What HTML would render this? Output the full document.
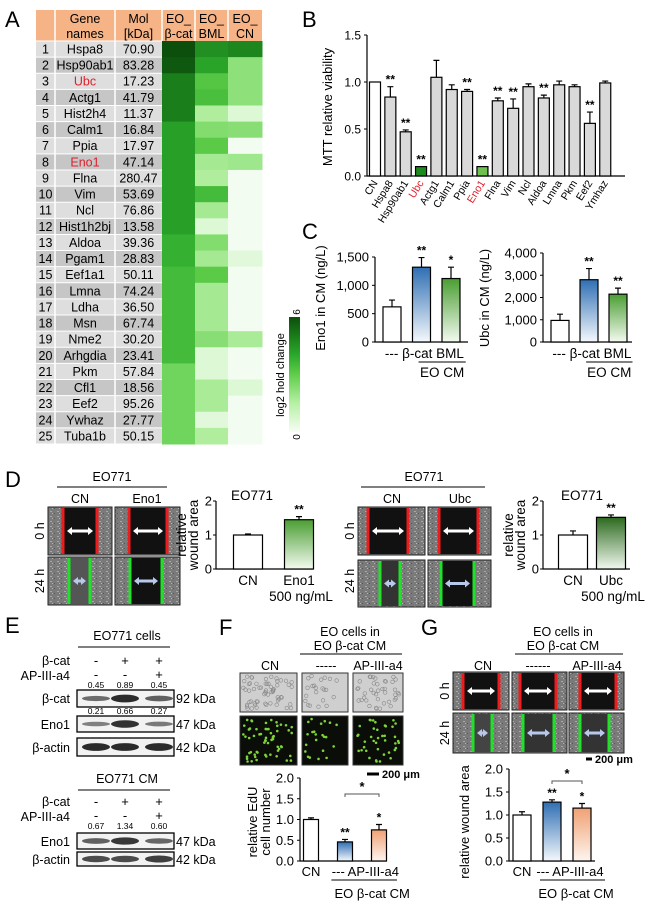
<!DOCTYPE html>
<html><head><meta charset="utf-8"><style>
html,body{margin:0;padding:0;background:#fff;}
svg{display:block;font-family:"Liberation Sans",Arial,sans-serif;}
</style></head><body>
<svg id="fig" width="656" height="911" viewBox="0 0 656 911" xmlns="http://www.w3.org/2000/svg">
<defs>
<linearGradient id="gBlue" x1="0" y1="0" x2="0" y2="1"><stop offset="0" stop-color="#2f6fb3"/><stop offset="1" stop-color="#f4f8fc"/></linearGradient>
<linearGradient id="gGreen" x1="0" y1="0" x2="0" y2="1"><stop offset="0" stop-color="#4a9e32"/><stop offset="1" stop-color="#f4faf0"/></linearGradient>
<linearGradient id="gDark" x1="0" y1="0" x2="0" y2="1"><stop offset="0" stop-color="#2c6a1e"/><stop offset="1" stop-color="#f2f8ef"/></linearGradient>
<linearGradient id="gOrange" x1="0" y1="0" x2="0" y2="1"><stop offset="0" stop-color="#f0a174"/><stop offset="1" stop-color="#fdf5ef"/></linearGradient>
<linearGradient id="gBar" x1="0" y1="0" x2="0" y2="1"><stop offset="0" stop-color="#0c4f0c"/><stop offset="0.17" stop-color="#1a7e1a"/><stop offset="0.33" stop-color="#2ba82b"/><stop offset="0.5" stop-color="#5fce4a"/><stop offset="0.75" stop-color="#b6f0a4"/><stop offset="1" stop-color="#f7fdf5"/></linearGradient>
<pattern id="noise" width="7" height="5" patternUnits="userSpaceOnUse"><rect width="7" height="5" fill="#7a7a7a"/><rect x="1" y="1" width="2" height="1" fill="#a8a8a8"/><rect x="5" y="3" width="1" height="1" fill="#555"/><rect x="3" y="3" width="1" height="1" fill="#b5b5b5"/></pattern>
</defs>

<g font-size="22" fill="#000">
<text x="5" y="27">A</text>
<text x="302" y="27">B</text>
<text x="302" y="239">C</text>
<text x="5" y="487">D</text>
<text x="5" y="633">E</text>
<text x="219" y="635">F</text>
<text x="421" y="635">G</text>
</g>

<g id="tableA"></g>
<g id="colorbar">
<rect x="289" y="317" width="11" height="115" fill="url(#gBar)"/>
<text transform="translate(300,312) rotate(-90)" font-size="10" text-anchor="middle">6</text>
<text transform="translate(300,437) rotate(-90)" font-size="10" text-anchor="middle">0</text>
<text transform="translate(284,375) rotate(-90)" font-size="11" text-anchor="middle">log2 hold change</text>
</g>

<g id="chartB"></g>
<g id="chartC1"></g>
<g id="chartC2"></g>

<g id="panelD" font-size="12.5">
<text x="112" y="481" text-anchor="middle">EO771</text>
<line x1="57" y1="487" x2="167" y2="487" stroke="#000"/>
<text x="80" y="503" text-anchor="middle">CN</text>
<text x="147" y="503" text-anchor="middle">Eno1</text>
<text transform="translate(44,531) rotate(-90)" text-anchor="middle">0 h</text>
<text transform="translate(44,581) rotate(-90)" text-anchor="middle">24 h</text>
<text x="424" y="481" text-anchor="middle">EO771</text>
<line x1="361" y1="487" x2="485" y2="487" stroke="#000"/>
<text x="392" y="503" text-anchor="middle">CN</text>
<text x="460" y="503" text-anchor="middle">Ubc</text>
<text transform="translate(354,531) rotate(-90)" text-anchor="middle">0 h</text>
<text transform="translate(354,581) rotate(-90)" text-anchor="middle">24 h</text>
</g>
<g id="imgs"></g>
<g id="chartD1"></g>
<g id="chartD2"></g>

<g id="panelE" font-size="12.5">
<text x="127" y="640" text-anchor="middle">EO771 cells</text>
<line x1="78" y1="647" x2="170" y2="647" stroke="#000"/>
<text x="70" y="665" text-anchor="end">β-cat</text>
<text x="70" y="680" text-anchor="end">AP-III-a4</text>
<text x="70" y="703" text-anchor="end">β-cat</text>
<text x="70" y="729" text-anchor="end">Eno1</text>
<text x="70" y="752" text-anchor="end">β-actin</text>
<text x="176" y="703">92 kDa</text>
<text x="176" y="729">47 kDa</text>
<text x="176" y="752">42 kDa</text>
<text x="127" y="783" text-anchor="middle">EO771 CM</text>
<line x1="78" y1="790" x2="170" y2="790" stroke="#000"/>
<text x="70" y="806" text-anchor="end">β-cat</text>
<text x="70" y="821" text-anchor="end">AP-III-a4</text>
<text x="70" y="846" text-anchor="end">Eno1</text>
<text x="70" y="864" text-anchor="end">β-actin</text>
<text x="176" y="846">47 kDa</text>
<text x="176" y="864">42 kDa</text>
</g>
<g id="blots"></g>

<g font-size="12.5">
<text x="350" y="636" text-anchor="middle">EO cells in</text>
<text x="350" y="650" text-anchor="middle">EO β-cat CM</text>
<line x1="300" y1="654" x2="402" y2="654" stroke="#000"/>
<text x="270" y="670" text-anchor="middle">CN</text>
<text x="326" y="670" text-anchor="middle">-----</text>
<text x="378" y="670" text-anchor="middle">AP-III-a4</text>
<line x1="367" y1="774" x2="379" y2="774" stroke="#000" stroke-width="3"/>
<text x="382" y="778" font-weight="bold" font-size="11">200 μm</text>
</g>
<g font-size="12.5">
<text x="563" y="636" text-anchor="middle">EO cells in</text>
<text x="563" y="650" text-anchor="middle">EO β-cat CM</text>
<line x1="515" y1="654" x2="623" y2="654" stroke="#000"/>
<text x="483" y="670" text-anchor="middle">CN</text>
<text x="538" y="670" text-anchor="middle">------</text>
<text x="597" y="670" text-anchor="middle">AP-III-a4</text>
<text transform="translate(449,691) rotate(-90)" text-anchor="middle">0 h</text>
<text transform="translate(449,733) rotate(-90)" text-anchor="middle">24 h</text>
<line x1="586" y1="759" x2="592" y2="759" stroke="#000" stroke-width="3"/>
<text x="595" y="763" font-weight="bold" font-size="11">200 μm</text>
</g>
<g id="chartF"></g>
<g id="chartG"></g>
</svg>

<script>
// ===== DATA =====
const geneNames = ["Hspa8","Hsp90ab1","Ubc","Actg1","Hist2h4","Calm1","Ppia","Eno1","Flna","Vim","Ncl","Hist1h2bj","Aldoa","Pgam1","Eef1a1","Lmna","Ldha","Msn","Nme2","Arhgdia","Pkm","Cfl1","Eef2","Ywhaz","Tuba1b"];
const molWeights = ["70.90","83.28","17.23","41.79","11.37","16.84","17.97","47.14","280.47","53.69","76.86","13.58","39.36","28.83","50.11","74.24","36.50","67.74","30.20","23.41","57.84","18.56","95.26","27.77","50.15"];
const heatBcat = [6,5.8,5,5,5,4.2,4.2,4.2,4.2,4.2,4.2,4.2,3.8,3.8,3.5,3.5,3.5,3.5,3.5,3.5,2.7,2.7,2.7,2.7,2.7];
const heatBml = [4.6,4.1,3.2,3.4,1.6,2.4,3.1,1.8,1.6,3.5,1.8,0.6,2.4,1.8,3.1,1.8,1.8,1.8,2.3,0.6,0.6,1.7,1.7,0.5,1.6];
const heatCn = [4.8,2.2,2.2,2.2,0.6,2.3,0.1,1.9,0.1,0.1,0.1,0.1,0.1,0.5,0.1,0.1,0.1,0.1,1.7,0.1,0.1,0.6,0.1,0.1,0.1];

const mttCats = ["CN","Hspa8","Hsp90ab1","Ubc","Actg1","Calm1","Ppia","Eno1","Flna","Vim","Ncl","Aldoa","Lmna","Pkm","Eef2","Ymhaz"];
const mttVals = [1.0,0.84,0.47,0.10,1.05,0.92,0.90,0.10,0.80,0.72,0.95,0.83,0.97,0.95,0.56,0.99];
const mttErrs = [0,0.11,0.02,0,0.18,0.05,0.02,0,0.03,0.10,0.03,0.03,0.04,0.02,0.12,0.02];
const mttStars = ["","**","**","**","","","**","**","**","**","","**","","","**",""];
const mttTicks = ["0.0","0.5","1.0","1.5"];

const eno1CmCats = ["---","β-cat","BML"];
const eno1CmVals = [620,1320,1120];
const eno1CmErrs = [120,170,200];
const eno1CmStars = ["","**","*"];
const eno1CmTicks = ["0","500","1,000","1,500"];

const ubcCmCats = ["---","β-cat","BML"];
const ubcCmVals = [970,2800,2150];
const ubcCmErrs = [280,500,270];
const ubcCmStars = ["","**","**"];
const ubcCmTicks = ["0","1,000","2,000","3,000","4,000"];

const woundEnoCats = ["CN","Eno1"];
const woundEnoVals = [1.0,1.45];
const woundEnoErrs = [0.03,0.09];
const woundUbcCats = ["CN","Ubc"];
const woundUbcVals = [1.0,1.52];
const woundUbcErrs = [0.12,0.07];
const woundTicks = ["0","1","2"];

const blotBcatQuant = ["0.45","0.89","0.45"];
const blotEnoQuant = ["0.21","0.66","0.27"];
const blotCmQuant = ["0.67","1.34","0.60"];

const eduCats = ["CN","---","AP-III-a4"];
const eduVals = [1.0,0.46,0.75];
const eduErrs = [0.04,0.06,0.13];
const eduStars = ["","**","*"];
const gWoundCats = ["CN","---","AP-III-a4"];
const gWoundVals = [1.0,1.28,1.15];
const gWoundErrs = [0.07,0.05,0.10];
const gWoundStars = ["","**","*"];
const fgTicks = ["0.0","0.5","1.0","1.5","2.0"];

// ===== HELPERS =====
const NS="http://www.w3.org/2000/svg";
function mk(tag,attrs,parent){const e=document.createElementNS(NS,tag);for(const k in attrs)e.setAttribute(k,attrs[k]);parent.appendChild(e);return e;}
function txt(parent,x,y,s,opt){const t=mk('text',Object.assign({x:x,y:y},opt||{}),parent);t.textContent=s;return t;}
function lerp(a,b,t){return a+(b-a)*t;}
const stops=[[0,[247,253,245]],[1.5,[182,240,164]],[3,[95,206,74]],[4,[43,168,43]],[5,[26,126,26]],[6,[12,79,12]]];
function heatColor(v){for(let i=1;i<stops.length;i++){if(v<=stops[i][0]){const a=stops[i-1],b=stops[i];const t=(v-a[0])/(b[0]-a[0]);return 'rgb('+a[1].map((c,j)=>Math.round(lerp(c,b[1][j],t))).join(',')+')';}}return 'rgb(12,79,12)';}

// ===== TABLE / HEATMAP =====
(function(){
 const g=document.getElementById('tableA');
 const top=41,rh=16.12;
 const cols=[36,55,115,162,195,228,262];
 const hdr=mk('rect',{x:36,y:10,width:226,height:31,fill:'#f6b486'},g);
 
 
 const hl=[["Gene","names",85],["Mol","[kDa]",138.5],["EO_","β-cat",178.5],["EO_","BML",211.5],["EO_","CN",245]];
 hl.forEach(h=>{const t1=txt(g,h[2],23,h[0],{'font-size':12.5,'text-anchor':'middle'});const t2=txt(g,h[2],38,h[1],{'font-size':12.5,'text-anchor':'middle'});});
 const heat=[heatBcat,heatBml,heatCn];
 geneNames.forEach((nm,i)=>{
  const y=top+i*rh;
  const bg=mk('rect',{x:36,y:y,width:126,height:rh,fill:(i%2===0)?'#dedede':'#c6c6c6'},g);
  
  
  const red=(nm==='Ubc'||nm==='Eno1');
  const a=txt(g,45.5,y+12.5,String(i+1),{'font-size':12.5,'text-anchor':'middle'});
  
  
  const b=txt(g,85,y+12.5,nm,{'font-size':12.5,'text-anchor':'middle',fill:red?'#e0202a':'#000'});
  
  
  const c=txt(g,138.5,y+12.5,molWeights[i],{'font-size':12.5,'text-anchor':'middle'});
  
  
  heat.forEach((arr,j)=>{
   const cell=mk('rect',{x:cols[3+j],y:y,width:cols[4+j]-cols[3+j]+0.5,height:rh+0.5,fill:heatColor(arr[i])},g);
   
   
  });
 });
 [55,115,162,195,228].forEach(x=>{const l=mk('line',{x1:x,y1:10,x2:x,y2:41,stroke:'#fff','stroke-width':1.5},g);});
 [55,115].forEach(x=>{const l=mk('line',{x1:x,y1:41,x2:x,y2:444,stroke:'#fff','stroke-width':1.5},g);});
 for(let i=0;i<=25;i++){const l=mk('line',{x1:36,y1:top+i*rh,x2:162,y2:top+i*rh,stroke:'#fff','stroke-width':1},g);}
})();

// ===== GENERIC BAR CHART =====
function barChart(o){
 const g=document.getElementById(o.id);
 const ys=v=>o.y0-(v/o.vmax)*(o.y0-o.yTop);
 const toff=(o.tickOff===undefined)?6:o.tickOff;
 const ax=mk('path',{d:`M${o.ax},${o.yTop} V${o.y0} H${o.axEnd}`,stroke:'#000',fill:'none','stroke-width':1.2},g);
 
 
 o.ticks.forEach((lab,i)=>{
  const v=o.vmax*i/(o.ticks.length-1);
  const tk=mk('line',{x1:o.ax-3,y1:ys(v),x2:o.ax,y2:ys(v),stroke:'#000'},g);
  
  
  const t=txt(g,o.ax-toff,ys(v)+4.5,lab,{'font-size':o.fs||12,'text-anchor':'end'});
  
  
 });
 o.vals.forEach((v,i)=>{
  const cx=o.x0+i*o.step;
  const fill=o.fills[i];
  if(o.errs[i]>0){
   const e=mk('path',{d:`M${cx},${ys(v)} V${ys(v+o.errs[i])} M${cx-3},${ys(v+o.errs[i])} H${cx+3}`,stroke:'#000',fill:'none','stroke-width':1.2},g);
   
   
  }
  const r=mk('rect',{x:cx-o.bw/2,y:ys(v),width:o.bw,height:o.y0-ys(v),fill:fill,stroke:'#000','stroke-width':1.2},g);
  
  
  if(o.stars&&o.stars[i]){
   const s=txt(g,cx,ys(v+o.errs[i])-3,o.stars[i],{'font-size':12,'text-anchor':'middle','font-weight':'bold'});
   
   
  }
 });
 return {g:g,ys:ys};
}

// Panel B
(function(){
 const fills=mttCats.map(c=>c==='CN'?'#fff':c==='Ubc'?'#1e8a1e':c==='Eno1'?'#6ec050':'#d9d9d9');
 const c=barChart({id:'chartB',ax:367,axEnd:625,y0:176,yTop:35,vmax:1.5,ticks:mttTicks,cats:mttCats,vals:mttVals,errs:mttErrs,stars:mttStars,fills:fills,x0:375,step:15.35,bw:11,fs:12});
 mttCats.forEach((cat,i)=>{
  const cx=375+i*15.35+3;
  const t=txt(c.g,cx,183,cat,{'font-size':10.5,'text-anchor':'end',fill:(cat==='Ubc'||cat==='Eno1')?'#e0202a':'#000',transform:`rotate(-58 ${cx} 183)`});
  
  
 });
 const yl=txt(c.g,0,0,'MTT relative viability',{'font-size':13,'text-anchor':'middle',transform:'translate(332,107) rotate(-90)'});
 
 
})();

// Panel C
function cmChart(id,cats,vals,errs,stars,ticks,vmax,ax,axEnd,yTop,x0,step,ylab,ylx){
 const c=barChart({id:id,ax:ax,axEnd:axEnd,y0:342,yTop:yTop,vmax:vmax,ticks:ticks,cats:cats,vals:vals,errs:errs,stars:stars,fills:['#fff','url(#gBlue)','url(#gGreen)'],x0:x0,step:step,bw:18,fs:13});
 const lab=txt(c.g,x0+step*1.1,358,cats.join(' '),{'font-size':13.5,'text-anchor':'middle'});
 
 
 const l=mk('line',{x1:x0+step*0.9,y1:362,x2:x0+step*2.5,y2:362,stroke:'#000'},c.g);
 
 
 const t=txt(c.g,x0+step*1.7,377,'EO CM',{'font-size':13.5,'text-anchor':'middle'});
 
 
 const yl=txt(c.g,0,0,ylab,{'font-size':13,'text-anchor':'middle',transform:`translate(${ylx},298) rotate(-90)`});
 
 
}
cmChart('chartC1',eno1CmCats,eno1CmVals,eno1CmErrs,eno1CmStars,eno1CmTicks,1500,375,468,257,392,29.5,'Eno1 in CM (ng/L)',325);
cmChart('chartC2',ubcCmCats,ubcCmVals,ubcCmErrs,ubcCmStars,ubcCmTicks,4000,543,632,253,560,29,'Ubc in CM (ng/L)',489);

// Panel D charts
function woundChart(id,cats,vals,errs,ax,axEnd,x0,step,fill2,titleX){
 const c=barChart({id:id,ax:ax,axEnd:axEnd,y0:569,yTop:501,vmax:2,ticks:woundTicks,cats:cats,vals:vals,errs:errs,stars:['','**'],fills:['#fff',fill2],x0:x0,step:step,bw:29,fs:13,tickOff:4});
 cats.forEach((ct,i)=>{const t=txt(c.g,x0+i*step,585,ct,{'font-size':13.5,'text-anchor':'middle'});});
 const n=txt(c.g,x0+step+2,601,'500 ng/mL',{'font-size':13.5,'text-anchor':'middle'});
 
 
 const t=txt(c.g,titleX,500,'EO771',{'font-size':13.5,'text-anchor':'middle'});
 
 
 const y1=txt(c.g,0,0,'relative',{'font-size':13.5,'text-anchor':'middle',transform:`translate(${ax-30},535) rotate(-90)`});
 
 
 const y2=txt(c.g,0,0,'wound area',{'font-size':13.5,'text-anchor':'middle',transform:`translate(${ax-18},535) rotate(-90)`});
 
 
}
woundChart('chartD1',woundEnoCats,woundEnoVals,woundEnoErrs,216,313,248,51,'url(#gGreen)',252);
woundChart('chartD2',woundUbcCats,woundUbcVals,woundUbcErrs,543,630,573,38,'url(#gDark)',582);

// Panel F & G charts
function fgChart(id,cats,vals,errs,stars,fill,ax,axEnd,yTop,x0,step,bw,brY,ylabs,ylxs){
 const c=barChart({id:id,ax:ax,axEnd:axEnd,y0:861,yTop:yTop,vmax:2,ticks:fgTicks,cats:cats,vals:vals,errs:errs,stars:stars,fills:['#fff','url(#gBlue)','url(#gOrange)'],x0:x0,step:step,bw:bw,fs:13});
 const br=mk('path',{d:`M${x0+step},${brY+3} V${brY} H${x0+2*step} V${brY+3}`,stroke:'#555',fill:'none'},c.g);
 
 
 const s=txt(c.g,x0+1.5*step,brY-3,'*',{'font-size':13,'text-anchor':'middle','font-weight':'bold'});
 
 
 const a=txt(c.g,x0,876,cats[0],{'font-size':13,'text-anchor':'middle'});
 
 
 const b=txt(c.g,x0+1.6*step,876,cats[1]+' '+cats[2],{'font-size':13,'text-anchor':'middle'});
 
 
 const l=mk('line',{x1:x0+0.6*step,y1:880,x2:axEnd+10,y2:880,stroke:'#000'},c.g);
 
 
 const gl=txt(c.g,x0+1.8*step,898,'EO β-cat CM',{'font-size':13,'text-anchor':'middle'});
 
 
 ylabs.forEach((lb,i)=>{const y=txt(c.g,0,0,lb,{'font-size':13,'text-anchor':'middle',transform:`translate(${ylxs[i]},822) rotate(-90)`});});
}
fgChart('chartF',eduCats,eduVals,eduErrs,eduStars,null,300,387,778,311,34,15,794,['relative EdU','cell number'],[257,270]);
fgChart('chartG',gWoundCats,gWoundVals,gWoundErrs,gWoundStars,null,509,595,769,522,30,18,781,['relative wound area'],[469]);

// ===== MICROGRAPHS =====
(function(){
 const g=document.getElementById('imgs');
 function wound(x,y,w,h,l1,l2,late,gapFill){
  const bg=mk('rect',{x:x,y:y,width:w,height:h,fill:'url(#noise)',stroke:'#222'},g);
  
  
  const gap=mk('rect',{x:l1,y:y+1,width:l2-l1,height:h-2,fill:gapFill||'#111'},g);
  
  
  const col=late?'#22e02a':'#ee1c1c';
  [l1,l2].forEach(lx=>{const l=mk('rect',{x:lx-1.5,y:y+1,width:3,height:h-2,fill:col},g);});
  const ac=late?'#b8c8ec':'#fff';const cy=y+h/2;const a1=l1+4,a2=l2-4;
  const ar=mk('path',{d:`M${a1+5},${cy-1.5} H${a2-5} V${cy-4} L${a2},${cy} L${a2-5},${cy+4} V${cy+1.5} H${a1+5} V${cy+4} L${a1},${cy} L${a1+5},${cy-4} Z`,fill:ac},g);
  
  
 }
 wound(48,507,64,48,63,97,false);
 wound(115,507,65,48,129,167,false);
 wound(48,557,64,48,69,90,true,'#555');
 wound(115,557,65,48,130,162,true);
 wound(358,507,67,48,368,408,false);
 wound(428,507,63,48,439,478,false);
 wound(358,560,67,47,380,400,true,'#333');
 wound(428,560,63,47,441,474,true);
 wound(453,672,56,38,463,499,false);
 wound(512,672,55,38,520,556,false);
 wound(569,672,55,38,580,616,false);
 wound(453,713,56,40,473,492,true,'#444');
 wound(512,713,55,40,523,554,true,'#333');
 wound(569,713,55,40,580,609,true,'#333');
 let seed=7;function rnd(){seed=(seed*9301+49297)%233280;return seed/233280;}
 const fx=[[240,297],[302,348],[353,403]];
 const counts=[60,22,40];
 fx.forEach((p,k)=>{
  const b=mk('rect',{x:p[0],y:673,width:p[1]-p[0],height:39,fill:'#cfcfcf',stroke:'#333'},g);
  
  
  const f=mk('rect',{x:p[0],y:716,width:p[1]-p[0],height:49,fill:'#0a0d08',stroke:'#333'},g);
  
  
  for(let i=0;i<counts[k];i++){
   const cx=p[0]+3+rnd()*(p[1]-p[0]-6),cy=676+rnd()*33;
   const c=mk('circle',{cx:cx,cy:cy,r:1.8,fill:'none',stroke:'#888','stroke-width':0.6},g);
   
   
   const d=mk('circle',{cx:cx,cy:719+(cy-676)*1.3,r:1.3,fill:'#7ed23a'},g);
   
   
  }
 });
})();

// ===== BLOTS =====
(function(){
 const g=document.getElementById('blots');
 const lanes=[96,125,159];
 function signs(y,arr){arr.forEach((s,i)=>{const t=txt(g,lanes[i],y,s,{'font-size':13,'text-anchor':'middle'});});}
 function quant(y,arr){arr.forEach((s,i)=>{const t=txt(g,lanes[i],y,s,{'font-size':8.5,'text-anchor':'middle'});});}
 function blot(y,h,ints,name){
  const r=mk('rect',{x:77,y:y,width:97,height:h,fill:'#f2f2f2',stroke:'#000','stroke-width':1.3},g);
  
  
  ints.forEach((v,i)=>{const e=mk('ellipse',{cx:lanes[i],cy:y+h/2,rx:14,ry:1.5+2.5*v,fill:'#1a1a1a','fill-opacity':0.35+0.6*v},g);});
 }
 signs(665,['-','+','+']);
 signs(679,['-','-','+']);
 quant(688,blotBcatQuant);
 blot(690,17,[0.45,0.95,0.55],'blot-bcat');
 quant(714,blotEnoQuant);
 blot(716,16,[0.3,0.9,0.35],'blot-eno1');
 blot(738,18,[0.95,0.95,0.95],'blot-actin');
 signs(806,['-','+','+']);
 signs(820,['-','-','+']);
 quant(829,blotCmQuant);
 blot(833,16,[0.55,0.85,0.5],'blot-cm-eno1');
 blot(852,14,[0.7,0.7,0.8],'blot-cm-actin');
})();
</script>
</body></html>
